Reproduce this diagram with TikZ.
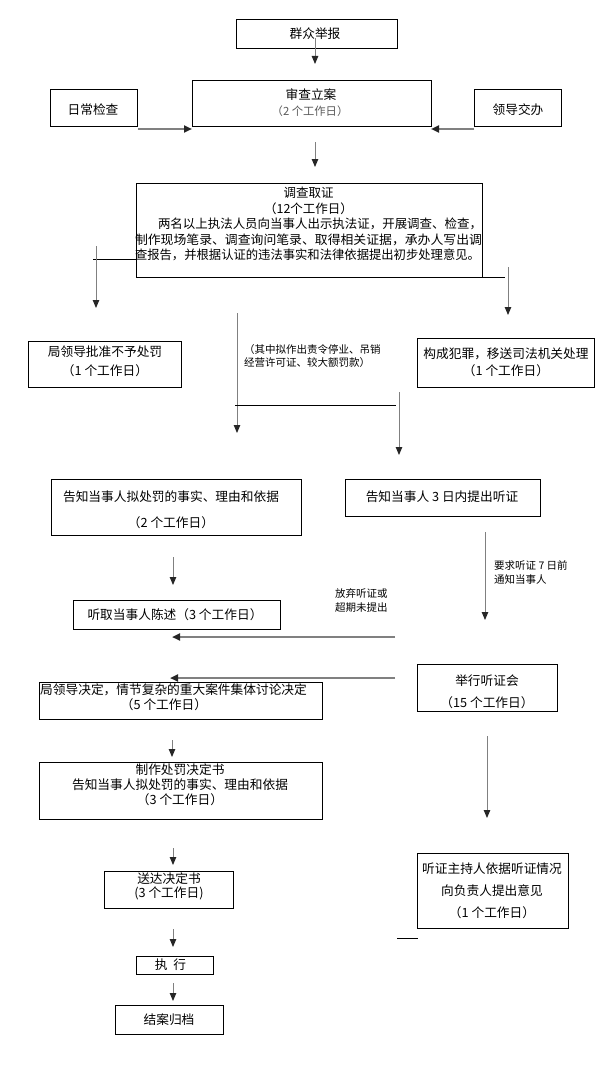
\documentclass[tikz,border=0pt]{standalone}
\usepackage{fontspec}
\usepackage{graphicx}
\setmainfont{Noto Sans CJK SC}
\usetikzlibrary{arrows.meta}
\tikzset{
  box/.style={draw=black, line width=0.9pt, inner sep=0pt},
  txt/.style={inner sep=0pt, align=center, text=black, font=\fontsize{12.7}{15}\selectfont},
  small/.style={inner sep=0pt, align=left, text=black, font=\fontsize{10.5}{14}\selectfont},
  arr/.style={draw=black!50, line width=0.9pt, -{Triangle[length=8pt,width=6.5pt,color=black!85]}},
  harr/.style={draw=black!50, line width=2pt, -{Triangle[length=8pt,width=7pt,color=black!85]}},
  plain/.style={draw=black, line width=0.9pt},
}
\begin{document}
\begin{tikzpicture}[x=1pt,y=-1pt]
\useasboundingbox (0,0) rectangle (613,1070);
% boxes
\node[box, minimum width=161pt, minimum height=29pt] (qzjb) at (316.5,33.5) {};
\node[box, minimum width=239pt, minimum height=46pt] (scla) at (311.5,103) {};
\node[box, minimum width=87pt, minimum height=37pt] (rcjc) at (93.5,107.5) {};
\node[box, minimum width=87pt, minimum height=37pt] (ldjb) at (517.5,107.5) {};
\node[box, minimum width=346pt, minimum height=94pt] (dcqz) at (309,230) {};
\node[box, minimum width=153pt, minimum height=46pt] (bycf) at (104.5,364) {};
\node[box, minimum width=177pt, minimum height=49pt] (gcfz) at (505.5,362.5) {};
\node[box, minimum width=250pt, minimum height=56pt] (gzcf) at (176,507) {};
\node[box, minimum width=195pt, minimum height=37pt] (gztz) at (442.5,497.5) {};
\node[box, minimum width=207pt, minimum height=29pt] (tqcs) at (176.5,614.5) {};
\node[box, minimum width=283pt, minimum height=37pt] (jldjd) at (180.5,700.5) {};
\node[box, minimum width=140pt, minimum height=47pt] (jxtzh) at (487,687.5) {};
\node[box, minimum width=283pt, minimum height=57pt] (zzcf) at (180.5,790.5) {};
\node[box, minimum width=129pt, minimum height=37pt] (sdjd) at (168.5,889.5) {};
\node[box, minimum width=77pt, minimum height=18pt] (zx) at (174.5,965) {};
\node[box, minimum width=108pt, minimum height=29pt] (jagd) at (169,1019.5) {};
\node[box, minimum width=151pt, minimum height=75pt] (tzzcr) at (492.5,890.5) {};
% texts
\node[txt] (qzjb-t) at (315,34) {群众举报};
\node[txt] (scla-t) at (311,95) {审查立案};
\node[txt, font=\fontsize{11.3}{13}\selectfont, text=black!65] (scla-s) at (310,111) {（2 个工作日）};
\node[txt] (rcjc-t) at (93,110) {日常检查};
\node[txt] (ldjb-t) at (518,110) {领导交办};
\node[txt, font=\fontsize{12.5}{15.5}\selectfont] (dcqz-t) at (308.5,224) {调查取证\\（12个工作日）\\
\makebox[347pt][l]{\hspace*{23pt}\resizebox{324pt}{\height}{两名以上执法人员向当事人出示执法证，开展调查、检查，}}\\
\makebox[347pt][l]{\resizebox{347pt}{\height}{制作现场笔录、调查询问笔录、取得相关证据，承办人写出调}}\\
\makebox[347pt][l]{\resizebox{345pt}{\height}{查报告，并根据认证的违法事实和法律依据提出初步处理意见。}}};
\node[txt, font=\fontsize{12.7}{19}\selectfont] (bycf-t) at (105,361.5) {局领导批准不予处罚\\（1 个工作日）};
\node[txt, font=\fontsize{12.7}{17}\selectfont] (gcfz-t) at (506,362.5) {构成犯罪，移送司法机关处理\\（1 个工作日）};
\node[txt, font=\fontsize{12.7}{26}\selectfont] (gzcf-t) at (171,510) {告知当事人拟处罚的事实、理由和依据\\（2 个工作日）};
\node[txt] (gztz-t) at (442,497) {告知当事人 3 日内提出听证};
\node[txt] (tqcs-t) at (175,615) {听取当事人陈述（3 个工作日）};
\node[txt, anchor=west] (jldjd-t) at (40,690) {局领导决定，情节复杂的重大案件集体讨论决定};
\node[txt] (jldjd-s) at (164,705) {（5 个工作日）};
\node[txt, font=\fontsize{12.7}{22}\selectfont] (jxtzh-t) at (487,692) {举行听证会\\（15 个工作日）};
\node[txt, font=\fontsize{12.7}{15}\selectfont] (zzcf-t) at (180,785) {制作处罚决定书\\告知当事人拟处罚的事实、理由和依据\\（3 个工作日）};
\node[txt, font=\fontsize{12.7}{14}\selectfont] (sdjd-t) at (169,886) {送达决定书\\(3 个工作日)};
\node[txt] (zx-t) at (170.5,965) {执\ \ 行};
\node[txt] (jagd-t) at (169,1020) {结案归档};
\node[txt, font=\fontsize{12.7}{22}\selectfont] (tzzcr-t) at (492,891) {听证主持人依据听证情况\\向负责人提出意见\\（1 个工作日）};
% small labels
\node[small, font=\fontsize{10.5}{13}\selectfont, anchor=west] (ann1) at (244,356.5) {（其中拟作出责令停业、吊销\\ 经营许可证、较大额罚款）};
\node[small, anchor=west] (ann2) at (494,572.5) {要求听证 7 日前\\通知当事人};
\node[small, anchor=west] (ann3) at (335,600) {放弃听证或\\超期未提出};
% coordinates for connector ends
\coordinate (c1a) at (315,38);  \coordinate (c1b) at (315,64);
\coordinate (c2a) at (138,129); \coordinate (c2b) at (192,129);
\coordinate (c3a) at (474,129); \coordinate (c3b) at (431,129);
\coordinate (c4a) at (315,142); \coordinate (c4b) at (315,167);
\coordinate (l1a) at (136,259); \coordinate (l1b) at (93,259);
\coordinate (c5a) at (96,246);  \coordinate (c5b) at (96,308);
\coordinate (l2a) at (482,277); \coordinate (l2b) at (505,277);
\coordinate (c6a) at (508,267); \coordinate (c6b) at (508,315);
\coordinate (c7a) at (237,313); \coordinate (c7b) at (237,433);
\coordinate (l3a) at (235,405); \coordinate (l3b) at (396,405);
\coordinate (c8a) at (399,392); \coordinate (c8b) at (399,455);
\coordinate (c9a) at (173,557); \coordinate (c9b) at (173,585);
\coordinate (c10a) at (485,532); \coordinate (c10b) at (485,620);
\coordinate (c11a) at (395,637); \coordinate (c11b) at (172,637);
\coordinate (c12a) at (395,678); \coordinate (c12b) at (170,678);
\coordinate (c13a) at (172,740); \coordinate (c13b) at (172,757);
\coordinate (c14a) at (487,736); \coordinate (c14b) at (487,818);
\coordinate (c15a) at (173,848); \coordinate (c15b) at (173,865);
\coordinate (c16a) at (173,929); \coordinate (c16b) at (173,947);
\coordinate (c17a) at (173,983); \coordinate (c17b) at (173,1001);
\coordinate (l4a) at (397,938); \coordinate (l4b) at (418,938);
% connectors
\draw[arr] (c1a) -- (c1b);
\draw[harr] (c2a) -- (c2b);
\draw[harr] (c3a) -- (c3b);
\draw[arr] (c4a) -- (c4b);
\draw[plain] (l1a) -- (l1b);
\draw[arr] (c5a) -- (c5b);
\draw[plain] (l2a) -- (l2b);
\draw[arr] (c6a) -- (c6b);
\draw[arr] (c7a) -- (c7b);
\draw[plain] (l3a) -- (l3b);
\draw[arr] (c8a) -- (c8b);
\draw[arr] (c9a) -- (c9b);
\draw[arr] (c10a) -- (c10b);
\draw[harr] (c11a) -- (c11b);
\draw[harr] (c12a) -- (c12b);
\draw[arr] (c13a) -- (c13b);
\draw[arr] (c14a) -- (c14b);
\draw[arr] (c15a) -- (c15b);
\draw[arr] (c16a) -- (c16b);
\draw[arr] (c17a) -- (c17b);
\draw[plain] (l4a) -- (l4b);
\end{tikzpicture}
\end{document}
